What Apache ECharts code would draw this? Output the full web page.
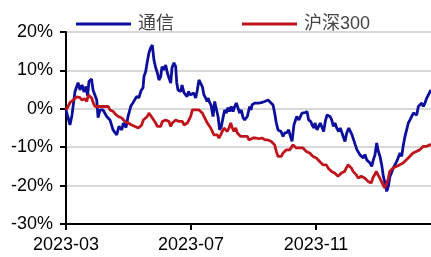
<!DOCTYPE html>
<html>
<head>
<meta charset="utf-8">
<script src="https://cdn.jsdelivr.net/npm/echarts@6/dist/echarts.min.js"></script>
<style>
html,body{margin:0;padding:0;background:#fff;}
#chart{width:431px;height:257px;}
</style>
</head>
<body>
<div id="chart"></div>
<script>
// x values: days since 2023-03-01
var tickLabels = ['2023-03', '2023-07', '2023-11'];
var seriesNames = ['通信', '沪深300'];

var telecomDays = [0,3.9,5.9,8.8,11.8,13.7,15.7,17.6,19.6,21.1,22.5,25,26.5,28.4,30.1,31.4,33.3,36.3,39.9,43.1,46.1,49.7,51.9,54.6,56.2,58.8,60.8,63.7,65.7,69.3,71.5,73.5,75.5,76.4,78.1,79.7,81.3,83,84.6,86.2,87.9,89.5,91.1,92.8,94.1,95.7,97.7,99.3,100.9,102.6,103.9,105.8,107.5,108.5,109.8,112.4,113.7,115.6,117.3,118.6,120.2,121.8,123.5,125.1,127.1,128.7,130.3,132,133.6,135.2,136.9,138.2,139.2,140.8,142.1,144.1,145.7,147.3,149,150.6,152.2,153.9,155.5,157.1,158.8,160.4,162,163.7,165.3,166.9,168.6,170.2,171.8,173.5,175.1,176.7,177.7,180,181.3,182.3,184.9,188.2,191.4,194.7,198,199.6,202.9,204.5,206.1,207.8,210.7,212.7,214.3,216.3,218.3,219.5,221.5,223.4,226.1,228.3,231.3,232.6,234.2,236.2,237.8,240.1,241.1,243,244,246,247.7,249.2,250.9,252.5,254.1,255.8,257.4,258.7,260.4,262,263.6,265.3,267.2,268.8,270.5,272.1,273.4,275.1,277.1,278.6,280.3,281.9,283.5,285.2,286.5,288.1,289.8,291.4,293,294.7,296.3,297.9,299.6,301.2,302.8,304.5,306.1,307.7,309.4,311,312.6,314.3,315.9,317.5,320.8,324.1,327.3,329,330.6,332.2,333.9,335.5,337.1,338.8,340.4,342.1,343.7,345.3,347,348.6,350.2,351.8,353.5,355.1,356.7,357.7];
var telecomValues = [-0.3,-4.2,-1.6,4.5,6.8,4.9,6.2,4.4,5.8,3.4,7.1,7.8,4.9,4.4,2.3,-2.3,-0.3,-0.3,-2.0,-2.9,-5.5,-6.8,-4.6,-5.5,-3.7,-4.9,-2.0,0.8,1.6,3.2,2.9,4.7,5.5,8.4,9.7,12.3,14.6,15.9,16.6,12.7,10.7,9.4,7.5,8.4,11.0,10.1,11.4,9.4,8.1,6.7,10.7,12.0,11.0,6.8,4.9,4.5,6.2,4.2,4.5,3.2,4.5,3.6,3.2,4.1,2.8,4.9,7.5,7.1,5.8,3.6,2.8,1.9,2.8,1.6,1.0,-2.0,1.9,1.5,-2.0,-5.5,-4.6,-2.3,-0.3,-1.1,0.3,-0.7,0.6,-0.7,0.6,1.5,1.0,-1.1,-0.3,-2.3,-2.9,-3.3,-2.0,0.6,-0.3,1.0,1.5,1.5,1.6,1.9,2.3,1.9,1.0,-1.1,-3.7,-5.5,-5.9,-7.2,-6.3,-6.2,-5.5,-6.8,-8.5,-4.2,-2.0,-2.9,-1.1,-0.7,-1.0,-0.7,-2.9,-3.4,-4.2,-5.0,-3.7,-5.5,-5.5,-3.7,-3.3,-5.9,-3.3,-1.6,-1.6,-2.0,-2.9,-4.6,-3.7,-5.0,-5.9,-5.0,-6.3,-7.6,-8.5,-6.3,-5.0,-5.5,-6.8,-8.1,-9.4,-10.7,-11.1,-12.0,-11.5,-12.8,-11.9,-13.3,-12.8,-14.1,-15.0,-13.3,-12.0,-8.9,-11.1,-12.4,-14.6,-17.6,-19.3,-21.5,-20.2,-17.6,-15.4,-13.7,-11.5,-12.4,-9.4,-7.2,-6.8,-3.7,-2.9,-3.3,-1.1,-0.7,-1.6,0.6,0.2,1.5,0.6,1.5,2.8,3.6,4.5,4.9];

var csiDays = [0,2,3.9,5.6,7.2,8.8,10.5,12.1,13.7,15.4,17,18.6,20.3,21.9,23.5,25.2,26.8,28.4,30.1,31.7,33.3,35,36.6,38.2,39.9,41.5,43.1,44.8,46.4,48,49.7,51.3,52.9,54.6,56.2,57.8,59.5,61.1,62.7,64.4,66,67.6,69.3,70.9,72.5,74.2,75.8,77.4,79.7,81.3,83,84.6,86.2,87.9,89.5,91.1,92.8,94.4,96,97.7,99.3,100.9,102.6,104.2,105.8,107.5,109.1,110.7,112.4,114,115.6,117.3,118.9,120.5,122.2,123.8,125.4,127.1,128.7,130.3,132,133.6,135.2,136.9,138.5,140.1,141.8,143.4,145,146.7,148.3,149.9,151.6,153.2,154.8,156.5,158.1,159.7,161.4,163,164.6,166.3,167.9,169.5,171.2,172.8,174.4,176.1,177.7,179.3,181,183.3,186.2,189.1,192.1,195,198,199.6,201.2,202.9,204.5,206.1,207.8,209.4,211,212.7,214.3,215.9,217.6,219.2,220.8,222.5,224.1,225.7,227.4,229,230.6,232.3,233.9,235.5,237.2,238.8,240.4,242.1,243.7,245.3,247,248.6,250.2,251.9,253.5,255.1,256.8,258.4,260,261.7,263.3,264.9,266.6,268.2,269.8,271.5,273.1,274.7,276.4,278,279.6,281.3,282.9,284.5,286.2,287.8,289.4,291.1,292.7,294.3,296,297.6,299.2,300.9,302.5,304.1,305.8,307.4,309,310.7,312.3,313.9,315.6,317.2,318.8,320.5,322.1,323.7,325.4,327,328.6,330.3,331.9,333.5,335.2,336.8,338.4,340.1,341.7,343.3,345,346.6,348.2,349.9,351.5,353.1,354.8,356.4,357.7];
var csiValues = [-0.3,0.6,1.6,1.9,2.3,2.8,3.1,2.6,2.9,2.3,2.8,2.6,1.9,3.6,4.1,2.8,1.5,0.6,0.6,0.6,1.0,0.6,1.0,0.6,0.2,0.6,-0.3,-0.7,-0.7,-1.3,-1.6,-2.0,-2.4,-2.4,-2.9,-3.3,-3.7,-3.7,-4.2,-4.2,-4.6,-4.6,-4.2,-5.0,-5.0,-4.2,-2.9,-2.9,-2.0,-1.1,-1.6,-2.4,-2.9,-3.7,-4.6,-4.2,-4.6,-3.3,-3.7,-2.9,-2.4,-3.3,-4.6,-3.7,-3.3,-2.9,-2.4,-3.3,-3.7,-3.3,-4.2,-4.6,-3.7,-3.3,-2.0,-0.3,0.2,-0.3,0.2,-0.3,-0.7,-1.1,-2.0,-2.4,-3.7,-4.2,-5.0,-5.5,-6.8,-7.2,-6.8,-7.6,-6.8,-5.9,-5.0,-4.6,-5.9,-5.0,-3.7,-5.0,-5.9,-5.0,-6.3,-6.8,-7.2,-6.8,-7.2,-7.6,-7.2,-8.1,-7.6,-7.6,-7.6,-7.8,-7.6,-8.1,-8.1,-7.6,-8.5,-8.9,-9.4,-11.1,-12.4,-12.8,-12.4,-11.5,-11.1,-10.7,-10.2,-10.7,-10.2,-9.4,-9.8,-10.2,-10.7,-10.2,-10.7,-10.2,-10.7,-11.1,-11.1,-11.5,-12.0,-12.4,-12.4,-12.8,-13.3,-13.7,-14.1,-14.6,-15.0,-14.6,-15.4,-15.4,-16.3,-15.9,-16.7,-17.2,-17.6,-17.2,-16.7,-16.7,-16.3,-15.4,-14.6,-15.0,-15.4,-16.3,-16.7,-17.2,-18.0,-17.6,-17.6,-18.0,-18.0,-18.5,-18.9,-18.5,-19.3,-17.9,-17.2,-16.3,-17.2,-18.0,-18.5,-19.8,-20.6,-20.2,-18.5,-16.3,-15.9,-15.4,-15.4,-15.0,-15.0,-14.6,-14.6,-14.1,-14.1,-13.3,-12.8,-12.4,-12.4,-11.5,-12.0,-11.1,-10.7,-10.7,-10.7,-9.8,-10.2,-9.8,-9.8,-9.4,-9.4];

function pairs(xs, ys) {
  var out = [];
  for (var i = 0; i < xs.length; i++) out.push([xs[i], ys[i]]);
  return out;
}

var STEP = 122.5;
var chart = echarts.init(document.getElementById('chart'), null, {renderer: 'canvas'});
var font = '"Liberation Sans", Arial, "Noto Sans CJK SC", sans-serif';
chart.setOption({
  animation: false,
  textStyle: {fontFamily: font},
  legend: {
    top: 10,
    left: 71,
    itemWidth: 55,
    itemHeight: 3,
    itemGap: 68,
    icon: 'rect',
    textStyle: {fontSize: 18, color: '#444', fontFamily: font, padding: [0, 0, 0, 2]},
    data: seriesNames
  },
  grid: {left: 66, right: 0, top: 32, bottom: 33, containLabel: false},
  xAxis: {
    type: 'value',
    min: 0,
    max: 357.7,
    interval: STEP,
    splitLine: {show: false},
    axisLine: {onZero: false, lineStyle: {color: '#000', width: 2}},
    axisTick: {show: true, length: 6, lineStyle: {color: '#000', width: 2}},
    axisLabel: {
      fontSize: 18, color: '#000', margin: 12, showMaxLabel: false,
      formatter: function (v) {
        var i = Math.round(v / STEP);
        if (Math.abs(v - i * STEP) < 0.5 && i < tickLabels.length) return tickLabels[i];
        return '';
      }
    }
  },
  yAxis: {
    type: 'value',
    min: -30,
    max: 20,
    interval: 10,
    axisLine: {show: true, onZero: false, lineStyle: {color: '#000', width: 2}},
    axisTick: {show: true, length: 6, lineStyle: {color: '#000', width: 2}},
    splitLine: {show: true, lineStyle: {color: '#d9d9d9', width: 2}},
    axisLabel: {fontSize: 18, color: '#000', margin: 13, formatter: '{value}%'}
  },
  series: [
    {
      name: seriesNames[0], type: 'line', showSymbol: false, symbol: 'none',
      data: pairs(telecomDays, telecomValues),
      lineStyle: {color: '#0c0f9c', width: 2.8},
      itemStyle: {color: '#0c0f9c'}
    },
    {
      name: seriesNames[1], type: 'line', showSymbol: false, symbol: 'none',
      data: pairs(csiDays, csiValues),
      lineStyle: {color: '#c0141c', width: 2.8},
      itemStyle: {color: '#c0141c'}
    }
  ]
});
</script>
</body>
</html>
